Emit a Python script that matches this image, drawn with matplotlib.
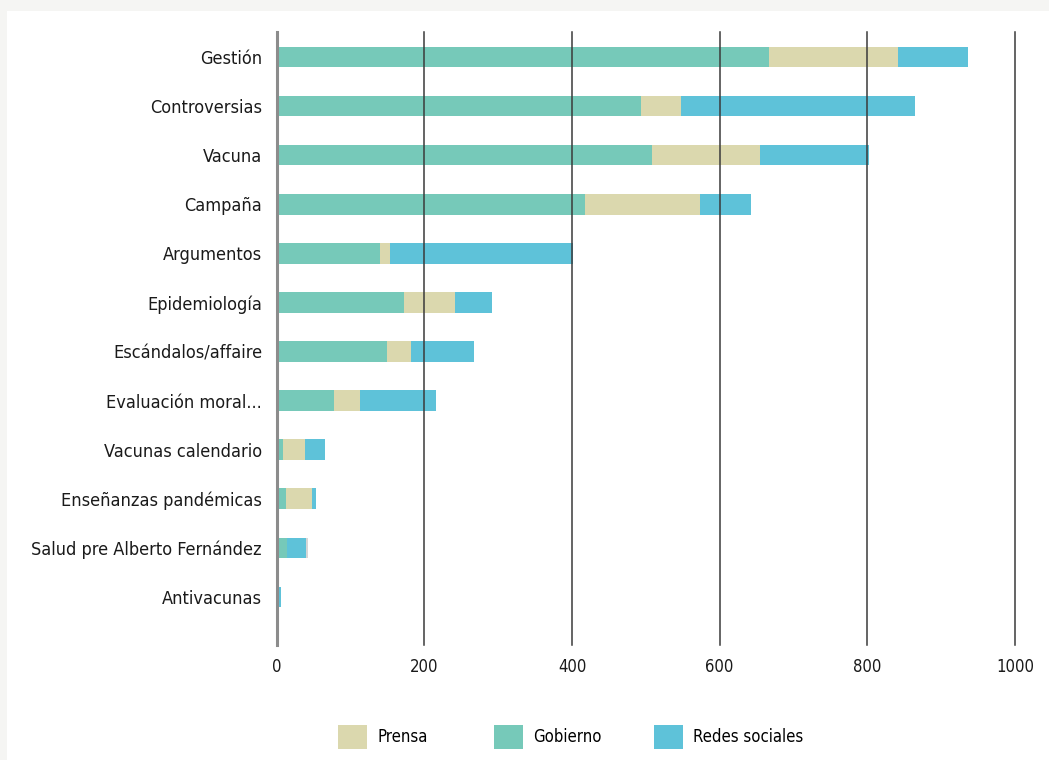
import matplotlib
matplotlib.use("Agg")
import matplotlib.pyplot as plt
import matplotlib.font_manager as fm

names = {f.name for f in fm.fontManager.ttflist}
fam = "Liberation Sans Narrow" if "Liberation Sans Narrow" in names else "DejaVu Sans"
plt.rcParams['font.family'] = [fam, 'DejaVu Sans']
plt.rcParams['font.stretch'] = 'condensed'

categories = ["Gestión", "Controversias", "Vacuna", "Campaña", "Argumentos", "Epidemiología",
              "Escándalos/affaire", "Evaluación moral...", "Vacunas calendario",
              "Enseñanzas pandémicas", "Salud pre Alberto Fernández", "Antivacunas"]
gobierno = [667, 493, 509, 417, 140, 172, 149, 77, 9, 12, 14, 0]
prensa = [175, 55, 146, 157, 14, 70, 33, 36, 30, 36, 0, 0]
redes = [95, 317, 147, 69, 248, 50, 85, 103, 27, 5, 26, 6]
otros = [0, 0, 0, 0, 0, 0, 0, 0, 0, 0, 3, 0]
xticks = [0, 200, 400, 600, 800, 1000]

c_gob = "#76c9b9"
c_pre = "#dbd8ae"
c_red = "#5ec2d9"
c_otr = "#d6d6d6"

W, H = 1049, 760
fig = plt.figure(figsize=(W / 100, H / 100), dpi=100, facecolor="#f5f5f3")
bg = fig.add_axes([7 / W, 0, 1 - 7 / W, 1 - 11 / H], zorder=-10)
bg.set_facecolor("white")
bg.set_xticks([]); bg.set_yticks([])
for s in bg.spines.values():
    s.set_visible(False)

ax = fig.add_axes([276.7 / W, 1 - 645 / H, (1015 - 276.7) / W, (645 - 32) / H])
ax.set_facecolor("none")

y = list(range(len(categories)))
h = 0.42
left2 = [g + p for g, p in zip(gobierno, prensa)]
left3 = [l + r for l, r in zip(left2, redes)]
b_gob = ax.barh(y, gobierno, height=h, color=c_gob, label="Gobierno", zorder=2)
b_pre = ax.barh(y, prensa, left=gobierno, height=h, color=c_pre, label="Prensa", zorder=2)
b_red = ax.barh(y, redes, left=left2, height=h, color=c_red, label="Redes sociales", zorder=2)
ax.barh(y, otros, left=left3, height=h, color=c_otr, zorder=2)

for t in xticks[1:]:
    ax.axvline(t, color="#3a3a3a", lw=1.1, zorder=3, clip_on=False)
ax.axvline(0, color="#8c8c8c", lw=2.2, zorder=4, clip_on=False)

ax.set_xlim(0, 1000)
ax.set_ylim(len(categories) - 1 + 0.98, -0.51)
ax.set_yticks(y)
ax.set_yticklabels(categories, fontsize=13, color="#1a1a1a")
ax.set_xticks(xticks)
ax.set_xticklabels([str(t) for t in xticks], fontsize=12, color="#1a1a1a")
ax.tick_params(axis="both", length=0)
ax.tick_params(axis="y", pad=10.5)
ax.tick_params(axis="x", pad=9)
for s in ax.spines.values():
    s.set_visible(False)

leg_items = [(b_pre, "Prensa", 338), (b_gob, "Gobierno", 494), (b_red, "Redes sociales", 654)]
for handle, lab, xpx in leg_items:
    lg = fig.legend([handle], [lab], loc="center left",
                    bbox_to_anchor=(xpx / W, 1 - 737 / H), frameon=False,
                    fontsize=12, handlelength=1.75, handleheight=1.75,
                    handletextpad=0.6, borderpad=0, borderaxespad=0)

fig.savefig("out.png", dpi=100, facecolor=fig.get_facecolor())
